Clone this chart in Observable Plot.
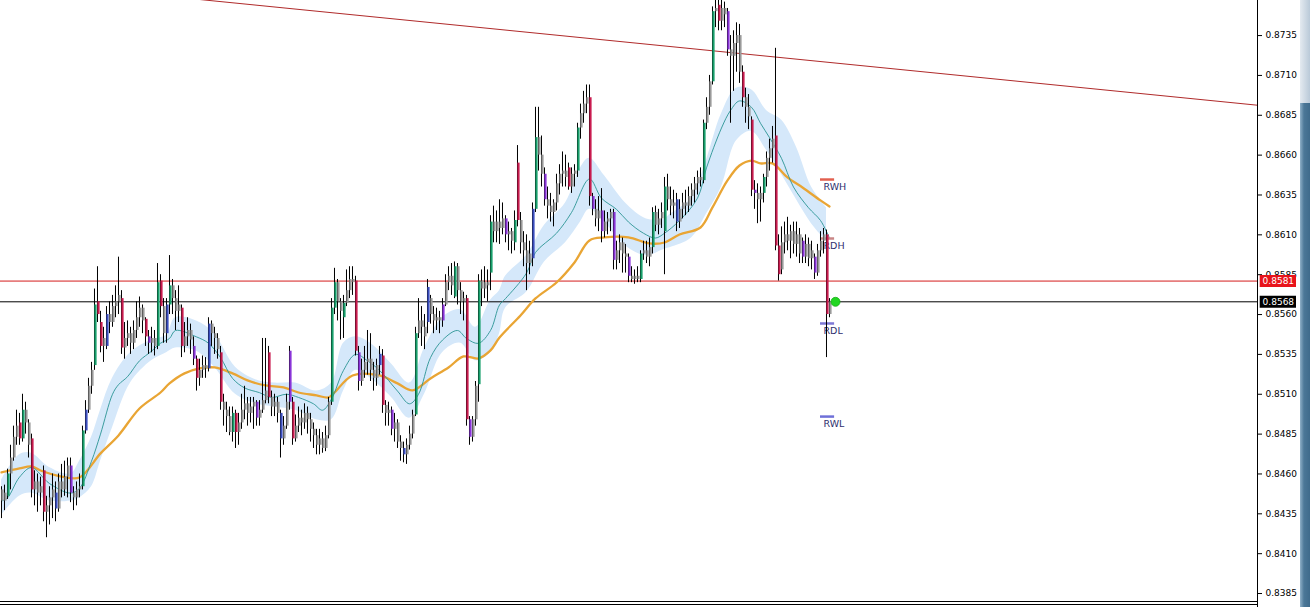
<!DOCTYPE html>
<html><head><meta charset="utf-8">
<script src="https://cdn.jsdelivr.net/npm/d3@7"></script>
<script src="https://cdn.jsdelivr.net/npm/@observablehq/plot@0.6"></script>
<style>
html,body{margin:0;padding:0;background:#fff;overflow:hidden}
#wrap{position:relative;width:1310px;height:607px}
#sb1{position:absolute;left:1300px;top:0;width:10px;height:103px;background:linear-gradient(90deg,#e4eaf0,#b9c9d8)}
#sb2{position:absolute;left:1300px;top:103px;width:10px;height:504px;background:linear-gradient(90deg,#8fb0c8,#4b7797 40%,#3f6b8c)}
</style></head><body><div id="wrap"><div id="sb1"></div><div id="sb2"></div></div>
<script>
// ---- OHLC bars (prices in pips, 1 pip = 0.0001) ----
const openPips=[
8450,8443,8446,8460,8470,8483,8492,8482,8500,8492,
8482,8450,8455,8448,8462,8436,8440,8445,8448,8438,
8455,8450,8458,8465,8448,8445,8450,8452,8487,8500,
8515,8528,8568,8555,8540,8540,8560,8555,8565,8568,
8570,8539,8545,8548,8542,8550,8558,8564,8557,8546,
8542,8545,8540,8581,8565,8548,8566,8578,8570,8562,
8564,8540,8546,8550,8540,8532,8520,8525,8528,8526,
8554,8548,8545,8536,8505,8500,8496,8486,8498,8486,
8492,8500,8504,8498,8502,8505,8495,8500,8506,8536,
8508,8502,8505,8498,8482,8490,8537,8505,8482,8490,
8495,8492,8498,8494,8488,8484,8478,8482,8476,8484,
8505,8564,8580,8568,8558,8567,8575,8582,8581,8536,
8518,8525,8530,8532,8525,8520,8528,8534,8503,8498,
8500,8488,8492,8480,8476,8472,8478,8485,8497,8548,
8556,8552,8555,8570,8560,8556,8558,8556,8566,8580,
8584,8571,8590,8575,8568,8570,8494,8483,8494,8516,
8581,8576,8580,8586,8618,8612,8618,8614,8620,8610,
8612,8605,8655,8619,8605,8600,8592,8595,8626,8671,
8660,8648,8632,8628,8624,8630,8642,8648,8650,8652,
8640,8648,8650,8677,8686,8692,8696,8634,8626,8620,
8625,8612,8618,8620,8624,8594,8600,8605,8598,8596,
8584,8582,8584,8582,8598,8600,8596,8602,8624,8616,
8620,8612,8640,8632,8628,8632,8618,8626,8630,8628,
8634,8638,8642,8646,8644,8680,8690,8706,8750,8754,
8744,8752,8750,8726,8722,8730,8735,8712,8696,8690,
8682,8638,8636,8632,8636,8646,8658,8664,8672,8603,
8588,8605,8610,8606,8612,8604,8610,8606,8596,8604,
8595,8596,8586,8600,8606,8610,8560];
const highPips=[
8452,8453,8463,8478,8490,8500,8498,8510,8505,8494,
8485,8462,8460,8458,8465,8446,8452,8460,8455,8460,
8466,8468,8470,8470,8452,8455,8460,8490,8506,8520,
8530,8576,8590,8562,8552,8565,8568,8572,8578,8596,
8575,8555,8556,8552,8556,8568,8571,8566,8558,8550,
8552,8550,8592,8585,8570,8570,8597,8582,8575,8578,
8566,8555,8558,8554,8546,8534,8532,8534,8533,8558,
8556,8552,8548,8540,8510,8505,8502,8502,8500,8498,
8510,8515,8508,8508,8508,8506,8506,8545,8545,8540,
8512,8510,8508,8500,8496,8510,8540,8508,8497,8502,
8500,8504,8502,8498,8492,8488,8488,8486,8490,8508,
8570,8589,8582,8570,8572,8588,8590,8590,8584,8540,
8532,8540,8550,8548,8530,8532,8540,8538,8506,8505,
8502,8498,8494,8484,8480,8482,8490,8500,8552,8570,
8565,8560,8582,8572,8565,8564,8562,8570,8585,8590,
8592,8593,8592,8580,8574,8572,8496,8496,8518,8585,
8588,8590,8588,8622,8628,8625,8632,8630,8622,8618,
8614,8625,8666,8624,8612,8610,8606,8630,8690,8690,
8672,8652,8640,8636,8632,8648,8654,8662,8660,8655,
8652,8654,8680,8692,8700,8704,8704,8636,8632,8634,
8639,8625,8624,8626,8626,8606,8610,8608,8604,8598,
8590,8588,8590,8600,8606,8606,8608,8627,8628,8626,
8630,8646,8648,8640,8638,8636,8632,8636,8638,8640,
8642,8646,8650,8652,8682,8696,8710,8753,8757,8757,
8757,8756,8752,8735,8738,8743,8742,8716,8702,8698,
8684,8644,8642,8640,8648,8662,8670,8678,8727,8610,
8615,8618,8621,8616,8618,8618,8614,8608,8610,8608,
8606,8598,8604,8612,8614,8613,8570];
const lowPips=[
8432,8437,8444,8450,8468,8478,8478,8480,8485,8470,
8445,8440,8436,8440,8430,8420,8428,8432,8430,8436,
8445,8446,8445,8442,8437,8440,8445,8450,8485,8498,
8510,8525,8555,8536,8530,8538,8548,8552,8558,8560,
8535,8532,8540,8535,8538,8545,8552,8548,8540,8535,
8536,8534,8538,8558,8542,8542,8560,8560,8550,8555,
8533,8536,8540,8535,8528,8512,8515,8520,8520,8524,
8540,8535,8532,8500,8490,8486,8484,8480,8476,8478,
8488,8494,8490,8492,8488,8490,8490,8498,8504,8504,
8496,8496,8492,8470,8478,8488,8500,8478,8480,8486,
8484,8488,8485,8480,8476,8472,8472,8473,8474,8482,
8503,8560,8556,8544,8545,8565,8570,8572,8534,8512,
8515,8520,8522,8518,8512,8515,8522,8498,8490,8490,
8484,8480,8476,8468,8467,8466,8475,8482,8496,8545,
8540,8538,8548,8554,8548,8550,8548,8552,8565,8575,
8572,8570,8566,8560,8556,8490,8478,8480,8490,8505,
8565,8570,8568,8575,8605,8605,8604,8610,8605,8600,
8598,8600,8615,8598,8590,8575,8585,8590,8624,8650,
8640,8628,8620,8618,8615,8625,8635,8640,8640,8638,
8636,8640,8646,8670,8680,8686,8628,8622,8615,8612,
8605,8608,8610,8612,8588,8588,8592,8586,8586,8580,
8580,8579,8580,8580,8594,8592,8590,8598,8612,8610,
8614,8585,8625,8622,8620,8612,8614,8620,8622,8624,
8628,8630,8635,8640,8642,8676,8685,8704,8740,8738,
8738,8740,8722,8680,8700,8712,8705,8690,8680,8676,
8634,8626,8617,8618,8630,8640,8650,8655,8600,8581,
8585,8598,8600,8595,8598,8596,8592,8592,8592,8590,
8588,8582,8584,8596,8598,8533,8558];
const closePips=[
8443,8448,8460,8470,8483,8490,8482,8500,8492,8478,
8450,8455,8448,8452,8436,8440,8445,8450,8438,8455,
8450,8458,8465,8448,8445,8450,8452,8487,8500,8515,
8525,8566,8560,8540,8545,8560,8555,8565,8568,8572,
8539,8545,8548,8542,8550,8558,8564,8556,8546,8542,
8545,8540,8580,8565,8548,8566,8578,8570,8562,8566,
8540,8546,8550,8544,8532,8520,8525,8528,8526,8554,
8548,8545,8538,8505,8500,8496,8486,8498,8486,8492,
8500,8504,8498,8502,8505,8495,8500,8506,8512,8508,
8502,8505,8498,8482,8490,8505,8505,8482,8490,8495,
8492,8498,8494,8488,8484,8478,8482,8476,8484,8505,
8564,8580,8568,8562,8567,8575,8582,8580,8537,8518,
8525,8530,8532,8525,8520,8528,8535,8503,8498,8500,
8488,8492,8480,8476,8472,8478,8485,8497,8548,8556,
8552,8546,8577,8560,8556,8558,8556,8566,8580,8584,
8578,8590,8575,8568,8570,8494,8483,8494,8515,8581,
8576,8580,8578,8618,8612,8618,8614,8620,8610,8612,
8606,8619,8619,8605,8600,8592,8598,8626,8671,8660,
8648,8632,8628,8624,8630,8642,8648,8650,8646,8640,
8648,8650,8677,8686,8692,8696,8634,8626,8620,8625,
8612,8618,8620,8624,8594,8600,8605,8598,8596,8584,
8582,8584,8582,8598,8600,8596,8602,8624,8616,8620,
8624,8640,8632,8628,8630,8618,8626,8630,8628,8634,
8638,8642,8646,8644,8680,8690,8706,8750,8752,8744,
8752,8748,8726,8722,8730,8735,8712,8696,8690,8684,
8638,8636,8632,8636,8646,8658,8664,8670,8603,8585,
8605,8610,8606,8612,8604,8610,8598,8596,8604,8595,
8600,8586,8600,8606,8610,8560,8568];
// bar body category: g gray, G green, R crimson, P purple, B blue
const barKinds=
"ggGgggRGgg"+"RgggRgggBg"+"gggPgggGBg"+"gGRRgBgggg"+"RgggggggRP"+
"ggGRgBGggg"+"RgggPRgggB"+"gggRgggGRg"+"gggggPgggR"+"gggBggPRgg"+
"gggggggggg"+"GGggGgggRP"+"ggggggBRgg"+"PgggBgggGg"+"ggBggggPgg"+
"gGgggRPggG"+"gggGggggPg"+"gGRggggBGg"+"gPgggggggR"+"ggGgggRPgg"+
"PgggPggggP"+"gggGgggGgg"+"gGgggBgggg"+"ggggGggGgR"+"ggPggggRgg"+
"RPggGgggRR"+"gggggggPgg"+"gPgggRg";
const barPalette={g:"#9a9a9a",G:"#18a06c",R:"#c91b4f",P:"#8a34d8",B:"#3b4ebf"};

// ---- fast MA (teal) ----
const tealIdx=[0,2,6,10,16,23,26,30,33,37,39,42,46,50,53,56,58,65,69,73,77,81,86,90,95,99,104,107,110,114,118,122,126,132,136,139,143,147,152,155,159,163,166,168,175,178,185,190,196,200,205,209,214,218,221,226,232,235,240,243,246,250,253,256,260,264,269,273,276];
const tealPips=[8443,8445,8458,8464,8454,8448,8451,8468,8485,8510,8516,8521,8531,8537,8542,8545,8550,8546,8542,8533,8520,8514,8511,8508,8510,8508,8504,8500,8507,8525,8535,8531,8525,8512,8504,8510,8533,8544,8550,8545,8542,8550,8566,8570,8586,8599,8611,8624,8645,8633,8626,8618,8611,8608,8611,8619,8633,8652,8677,8688,8694,8690,8680,8671,8658,8640,8627,8619,8608];

// ---- envelope band (light blue) ----
const bandIdx=[0,6,10,16,23,26,30,33,37,43,50,55,58,65,71,78,85,91,98,105,110,114,118,123,130,136,141,147,153,158,163,166,168,175,181,188,193,196,201,208,215,221,223,230,235,240,245,250,255,260,265,270,275];
const bandUpperPips=[8456,8472,8473,8464,8460,8468,8483,8500,8520,8536,8544,8547,8558,8556,8548,8527,8519,8517,8517,8512,8517,8542,8546,8542,8529,8517,8539,8558,8563,8552,8569,8575,8584,8597,8616,8630,8652,8658,8647,8630,8620,8620,8623,8633,8657,8686,8702,8701,8688,8682,8665,8640,8627];
const bandLowerPips=[8434,8446,8448,8443,8443,8445,8452,8468,8489,8517,8531,8536,8539,8537,8527,8510,8504,8502,8500,8494,8494,8512,8525,8520,8508,8495,8510,8536,8542,8531,8536,8548,8564,8574,8593,8605,8618,8626,8618,8603,8597,8601,8602,8608,8623,8640,8669,8675,8663,8648,8632,8617,8606];

// ---- slow MA (orange) ----
const orangeIdx=[0,6,10,13,16,20,26,33,39,46,53,56,61,66,71,77,82,88,94,99,105,109,111,117,126,132,137,143,149,154,159,163,166,173,178,185,191,196,201,209,216,221,226,233,237,242,246,250,253,257,262,267,273,276];
const orangePips=[8461,8463.5,8464.7,8462.2,8460.3,8458.4,8457.8,8472.9,8484.2,8501.1,8511.1,8516.8,8523.1,8526.2,8526.8,8523.1,8518.7,8515.5,8514.3,8511.1,8509.3,8508,8511.1,8521.8,8521.8,8516.8,8512.4,8519.9,8526.8,8533.7,8532.5,8537.5,8545.6,8559.4,8570.1,8580.1,8592.7,8606.5,8608.4,8608.4,8604.6,8605.2,8610.2,8614.6,8627.2,8644.1,8653.5,8656.6,8654.8,8654.8,8646,8639.7,8631.6,8627.8];

// ---- horizontal levels and trend line ----
const askLine=0.8581, bidLine=0.8568;
const trendIdx=[63,418.7], trendPrice=[0.87582,0.86913];
const levelNames=["RWH","RDH","RDL","RWL"];
const levelPrices=[0.86447,0.86077,0.85544,0.84960];
const levelColors=["#e2604f","#c98686","#7d78d6","#6f70d8"];
const yTicks=[0.8385,0.8410,0.8435,0.8460,0.8485,0.8510,0.8535,0.8560,0.8585,0.8610,0.8635,0.8660,0.8685,0.8710,0.8735];

// ---- build tables ----
const P=v=>v/1e4;
const bars=closePips.map((c,i)=>({i,o:P(openPips[i]),h:P(highPips[i]),l:P(lowPips[i]),c:P(c),col:barPalette[barKinds[i]]||"#9a9a9a"}));
const teal=tealIdx.map((x,k)=>({x,y:P(tealPips[k])}));
const band=bandIdx.map((x,k)=>({x,hi:P(bandUpperPips[k]),lo:P(bandLowerPips[k])}));
const orange=orangeIdx.map((x,k)=>({x,y:P(orangePips[k])}));
const trend=trendIdx.map((x,k)=>({x,y:trendPrice[k]}));
const lastIdx=bars.length-1;
const levels=levelNames.map((n,k)=>({n,p:levelPrices[k],col:levelColors[k],a:lastIdx-3,b:lastIdx+1.7}));
const xMin=-1/3, xMax=418.667;
const tags=[{p:askLine,col:"#e8141b",t:"0.8581"},{p:bidLine,col:"#000000",t:"0.8568"}].map(d=>({...d,a:xMax+0.9,b:xMax+13}));
const cur=[{x:lastIdx+2,y:bidLine}];

const chart=Plot.plot({
  width:1310,height:607,marginLeft:0,marginRight:53,marginTop:0,marginBottom:6,
  x:{domain:[xMin,xMax],axis:null},
  y:{domain:[0.838,0.8757],axis:null},
  color:{type:"identity"},
  style:{fontFamily:"'DejaVu Sans', Tahoma, sans-serif",fontSize:"9px",background:"#fff",overflow:"visible"},
  marks:[
    Plot.areaY(band,{x:"x",y1:"lo",y2:"hi",fill:"#d5e8fa",curve:"catmull-rom"}),
    Plot.ruleY([askLine],{stroke:"#d41c1c",strokeWidth:1}),
    Plot.ruleY([bidLine],{stroke:"#000",strokeWidth:1}),
    Plot.line(trend,{x:"x",y:"y",stroke:"#b02a2a",strokeWidth:1,clip:true}),
    Plot.line(orange,{x:"x",y:"y",stroke:"#e9a534",strokeWidth:2.3,curve:"catmull-rom"}),
    Plot.line(teal,{x:"x",y:"y",stroke:"#2a9494",strokeWidth:0.9,curve:"catmull-rom"}),
    Plot.ruleY(levels,{y:"p",x1:"a",x2:"b",stroke:"col",strokeWidth:2.5}),
    Plot.text(levels,{x:"a",y:"p",text:"n",dx:3,dy:7,textAnchor:"start",fill:"#2e2e6e",fontSize:9.5}),
    Plot.ruleX(bars,{x:"i",y1:"l",y2:"h",stroke:"#000",strokeWidth:1}),
    Plot.ruleX(bars,{x:"i",y1:"o",y2:"c",stroke:"col",strokeWidth:2.2,dx:1}),
    Plot.dot(cur,{x:"x",y:"y",r:4.5,fill:"#22d622",stroke:"#18b018",strokeWidth:0.8}),
    Plot.ruleX([xMax],{stroke:"#000",insetBottom:-6}),
    Plot.ruleY([0.838],{stroke:"#000"}),
    Plot.ruleY([0.838],{stroke:"#000",dy:3}),
    Plot.axisY(yTicks,{anchor:"right",tickSize:4,tickPadding:4,tickFormat:d=>d.toFixed(4),fontSize:9}),
    Plot.ruleY(tags,{y:"p",x1:"a",x2:"b",stroke:"col",strokeWidth:12}),
    Plot.text(tags,{x:d=>(d.a+d.b)/2,y:"p",text:"t",fill:"#fff",fontSize:9})
  ]
});
document.getElementById("wrap").prepend(chart);
</script>
</body></html>
